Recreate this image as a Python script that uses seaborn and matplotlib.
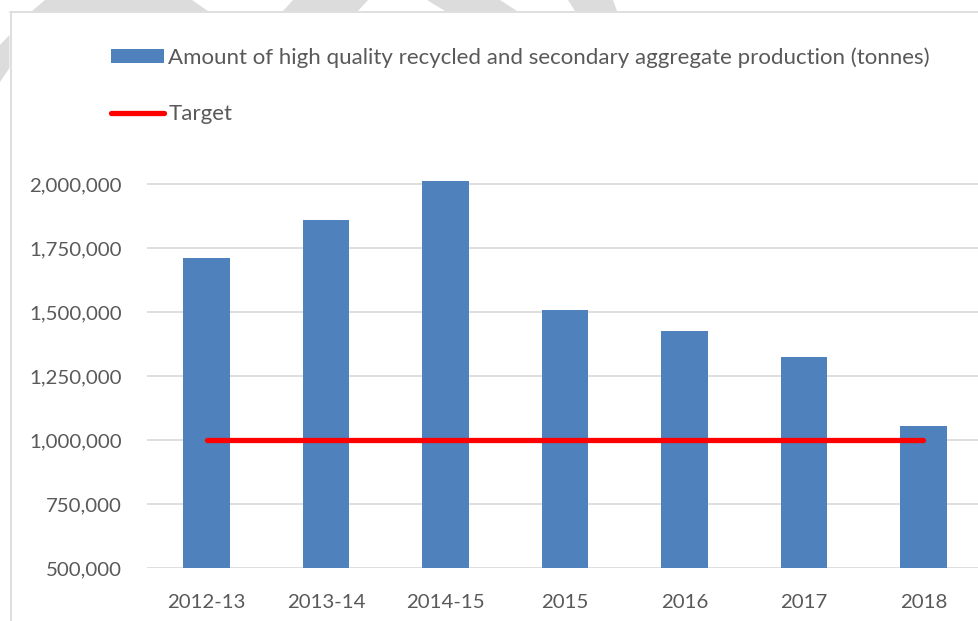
import numpy as np
import pandas as pd
import seaborn as sns
import matplotlib.pyplot as plt
from matplotlib.patches import Polygon
from matplotlib.ticker import StrMethodFormatter

years = ["2012-13", "2013-14", "2014-15", "2015", "2016", "2017", "2018"]
production = [1711000, 1859000, 2012000, 1508000, 1426000, 1324000, 1056000]
target = [1000000, 1000000, 1000000, 1000000, 1000000, 1000000, 1000000]
yticks = [500000, 750000, 1000000, 1250000, 1500000, 1750000, 2000000]

bar_label = "Amount of high quality recycled and secondary aggregate production (tonnes)"
line_label = "Target"

df = pd.DataFrame({"year": years, "production": production, "target": target})

sns.set_style("white")
plt.rcParams["font.family"] = ["Lato", "DejaVu Sans"]
grey_text = "#595959"
grid_col = "#D9D9D9"

W, H = 979, 621
fig = plt.figure(figsize=(W / 100, H / 100), dpi=100)

def px(x, y):
    return (x / W, 1 - y / H)

# faint watermark bits peeking out around the chart area
wm = "#DCDCDC"
shapes = [
    [(45, 0), (192, 0), (208, 11), (32, 11)],
    [(293, 0), (368, 0), (358, 11), (283, 11)],
    [(427, 0), (500, 0), (517, 11), (445, 11)],
    [(568, 0), (613, 0), (617, 11), (575, 11)],
    [(0, 45), (9.5, 35), (9.5, 68), (0, 82)],
]
for s in shapes:
    fig.add_artist(Polygon([px(*p) for p in s], closed=True, transform=fig.transFigure,
                           facecolor=wm, edgecolor="none", zorder=0))

# chart area border (top and left visible)
fig.add_artist(plt.Line2D([10 / W, 1], [1 - 11.5 / H, 1 - 11.5 / H], transform=fig.transFigure,
                          color=grid_col, lw=1.2))
fig.add_artist(plt.Line2D([10.5 / W, 10.5 / W], [0, 1 - 11.5 / H], transform=fig.transFigure,
                          color=grid_col, lw=1.2))

left, right = 147, 983
bottom_px = 568
ymin, ymax = 500000, 2100000
scale = 256 / 1e6
top_px = bottom_px - (ymax - ymin) * scale
ax = fig.add_axes([left / W, (H - bottom_px) / H, (right - left) / W, (bottom_px - top_px) / H])

sns.barplot(data=df, x="year", y="production", color="#4F81BD", saturation=1,
            width=0.39, linewidth=0, label=bar_label, ax=ax, zorder=2)
sns.lineplot(data=df, x="year", y="target", color="#FF0000", lw=3.8,
             solid_capstyle="round", label=line_label, ax=ax, zorder=3)

ax.set_ylim(ymin, ymax)
ax.set_xlim(-0.5, len(years) - 0.5)
ax.set_yticks(yticks)
ax.yaxis.set_major_formatter(StrMethodFormatter("{x:,.0f}"))
ax.grid(axis="y", color=grid_col, lw=1.2, zorder=0)
ax.set_axisbelow(True)
for sp in ax.spines.values():
    sp.set_visible(False)
ax.tick_params(axis="both", length=0, labelsize=14.7, colors=grey_text)
ax.tick_params(axis="y", pad=18)
ax.tick_params(axis="x", pad=18.5)
ax.set_xlabel("")
ax.set_ylabel("")

handles, labels = ax.get_legend_handles_labels()
order = [labels.index(bar_label), labels.index(line_label)]
if ax.get_legend() is not None:
    ax.get_legend().remove()
leg = fig.legend([handles[i] for i in order], [labels[i] for i in order],
                 loc="upper left", bbox_to_anchor=px(111, 47),
                 frameon=False, fontsize=16, handlelength=2.4, handleheight=0.6,
                 handletextpad=0.18, labelspacing=1.65, borderpad=0, borderaxespad=0)
for t in leg.get_texts():
    t.set_color(grey_text)

fig.savefig("out.png", dpi=100)
